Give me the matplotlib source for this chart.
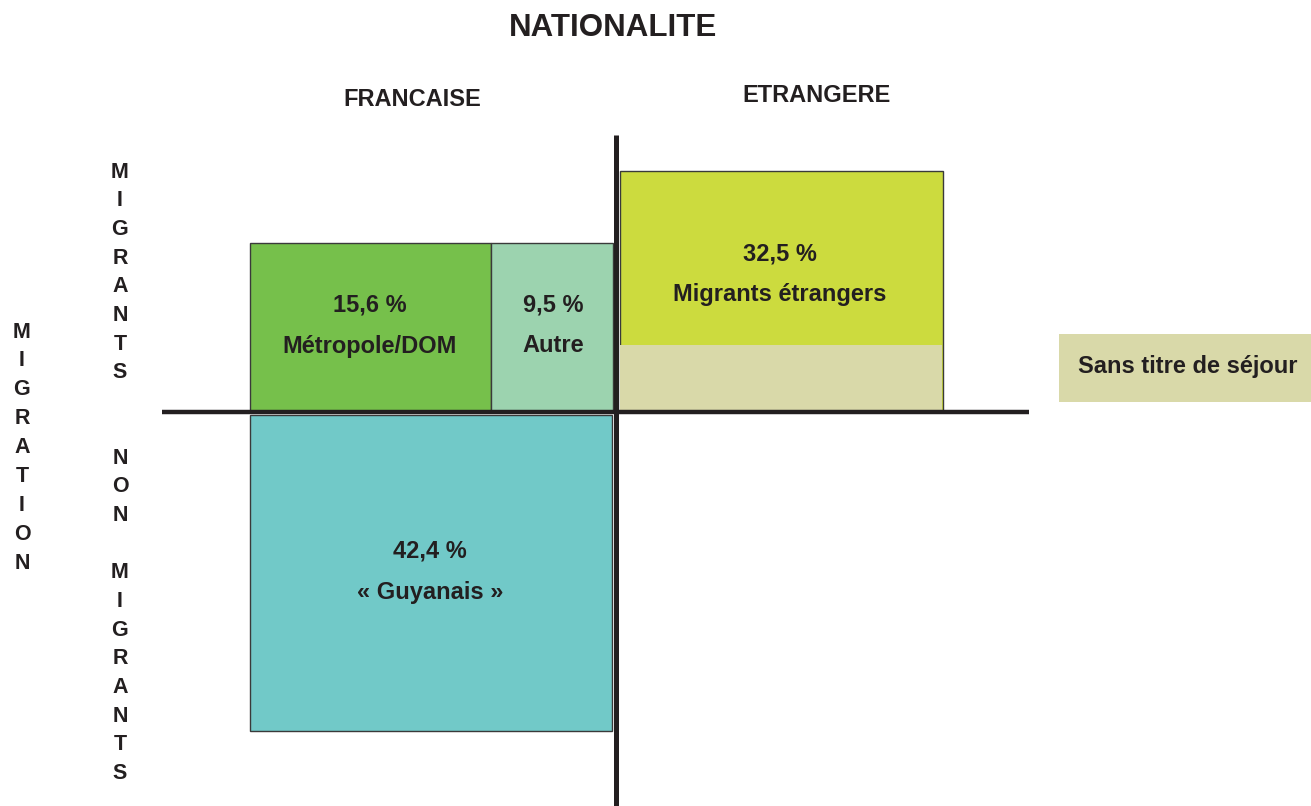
import matplotlib
matplotlib.use('Agg')
import matplotlib.pyplot as plt

plt.rcParams['font.family'] = ['Liberation Sans', 'DejaVu Sans']

# data
shares    = [15.6, 9.5, 32.5, 42.4]
names     = ['Métropole/DOM', 'Autre', 'Migrants étrangers', '« Guyanais »']
colors    = ['#76c04b', '#9cd3af', '#ccdb3e', '#71c9c8']
title     = 'NATIONALITE'
col_heads = ['FRANCAISE', 'ETRANGERE']
row_heads = ['MIGRANTS', 'NON MIGRANTS']
side_head = 'MIGRATION'
sejour    = 'Sans titre de séjour'

# layout (pixels, y going down)
box_left   = [250, 491, 620, 250]
box_width  = [241, 122, 323, 362]
box_top    = [243, 243, 171, 415]
box_height = [168, 168, 240, 316]
sejour_top = 345          # beige part inside the foreign box
txt_col = '#231f20'

fig = plt.figure(figsize=(13.11, 8.06), dpi=100)
ax = fig.add_axes([0, 0, 1, 1])
ax.set_xlim(0, 1311)
ax.set_ylim(806, 0)
ax.axis('off')

# boxes
ax.bar(box_left, box_height, width=box_width, bottom=box_top, align='edge',
       color=colors, edgecolor='#3a3a3a', linewidth=1, zorder=2)
# beige "sans titre" band at bottom of foreign box
ax.bar(box_left[2], box_top[2] + box_height[2] - sejour_top, width=box_width[2] - 1,
       bottom=sejour_top, align='edge', color='#d9d9a9', edgecolor='none', zorder=3)
# legend box for sans titre
ax.bar(1059, 68, width=260, bottom=334, align='edge', color='#d9d9a9',
       edgecolor='none', zorder=2)
ax.text(1188, 367, sejour, ha='center', va='center', fontsize=17,
        fontweight='bold', color=txt_col, zorder=4)

# axes cross
ax.plot([616, 616], [135, 806], color='#231f20', lw=3.6, zorder=5,
        solid_capstyle='butt')
ax.plot([162, 1029], [412, 412], color='#231f20', lw=3.2, zorder=5,
        solid_capstyle='butt')

# box labels
lab_x = [370, 553, 780, 430]
pct_y = [305, 305, 254, 551]
for i in range(4):
    pct = ('%.1f' % shares[i]).replace('.', ',') + ' %'
    ax.text(lab_x[i], pct_y[i], pct, ha='center', va='center', fontsize=17,
            fontweight='bold', color=txt_col, zorder=4)
    ax.text(lab_x[i], pct_y[i] + 41, names[i], ha='center', va='center',
            fontsize=17, fontweight='bold', color=txt_col, zorder=4)

# headers
ax.text(613, 28, title, ha='center', va='center', fontsize=22.5,
        fontweight='bold', color=txt_col)
ax.text(412, 99, col_heads[0], ha='center', va='center', fontsize=17,
        fontweight='bold', color=txt_col)
ax.text(816, 95, col_heads[1], ha='center', va='center', fontsize=17,
        fontweight='bold', color=txt_col)

# vertical letters
def vtext(x, y0, s, step=28.7):
    for k, ch in enumerate(s):
        if ch != ' ':
            ax.text(x, y0 + k * step, ch, ha='center', va='center',
                    fontsize=15.5, fontweight='bold', color=txt_col)

vtext(120, 172, row_heads[0])
vtext(120, 458, row_heads[1])
vtext(22, 332, side_head, step=28.9)

fig.savefig('out.png', dpi=100)
